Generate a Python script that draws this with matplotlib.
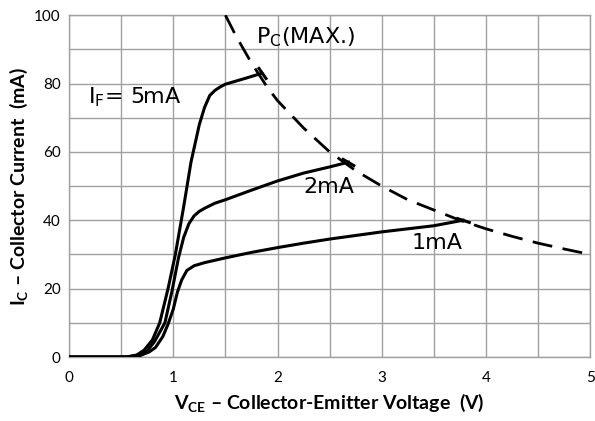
import matplotlib.pyplot as plt
import numpy as np

plt.rcParams['font.family'] = ['Lato', 'DejaVu Sans']
plt.rcParams['mathtext.fontset'] = 'custom'
plt.rcParams['mathtext.rm'] = 'Lato'
plt.rcParams['mathtext.bf'] = 'Lato:bold'

# I_F = 1 mA
v_1ma = [0, 0.55, 0.68, 0.77, 0.83, 0.9, 0.95, 1.0, 1.04, 1.08, 1.13, 1.2, 1.3, 1.5,
         1.75, 2.0, 2.25, 2.5, 3.0, 3.5, 3.78]
ic_1ma = [0, 0, 0.4, 1.5, 2.8, 6, 9.6, 14, 19, 22.5, 25.3, 26.7, 27.6, 29,
          30.6, 32, 33.3, 34.5, 36.6, 38.4, 40]
# I_F = 2 mA
v_2ma = [0, 0.55, 0.65, 0.75, 0.82, 0.92, 0.99, 1.05, 1.1, 1.15, 1.2, 1.25, 1.3, 1.4,
         1.5, 1.75, 2.0, 2.25, 2.5, 2.68]
ic_2ma = [0, 0, 0.4, 1.8, 4.5, 10, 19.6, 29, 35, 39, 41.3, 42.6, 43.5, 45,
          46, 48.8, 51.5, 53.8, 55.6, 57]
# I_F = 5 mA
v_5ma = [0, 0.55, 0.65, 0.72, 0.8, 0.87, 0.95, 1.02, 1.1, 1.17, 1.25, 1.3, 1.35, 1.4,
         1.45, 1.5, 1.6, 1.7, 1.85]
ic_5ma = [0, 0, 0.6, 2, 5, 10, 20, 30, 44, 57, 68, 73, 76.5, 78,
          79, 79.8, 80.7, 81.6, 83]
# collector power dissipation limit
v_pc = [1.5, 1.6, 1.75, 1.9, 2.0, 2.25, 2.5, 2.75, 3.0, 3.25, 3.5, 3.75, 4.0, 4.25, 4.5, 4.75, 5.0]
ic_pc = [100, 94, 86, 79, 75, 67, 60, 54.5, 50, 46, 43, 40, 37.5, 35.3, 33.3, 31.6, 30]

# end cap angle of each curve (deg)
curves = [(v_1ma, ic_1ma, 72), (v_2ma, ic_2ma, 60), (v_5ma, ic_5ma, 35)]

fig = plt.figure(figsize=(5.95, 4.21), dpi=100)
ax = fig.add_axes([0.116, 0.152, 0.876, 0.812])

for v, ic, ang in curves:
    ax.plot(v, ic, color='black', lw=2.2, solid_joinstyle='round', zorder=3,
            marker=(2, 0, ang), markevery=[-1], ms=11, mew=2.2, mec='black')
ax.plot(v_pc, ic_pc, color='black', lw=2.0, dashes=(7.2, 3.8), zorder=3)

ax.set_xlim(0, 5)
ax.set_ylim(0, 100)
ax.set_xticks([0, 1, 2, 3, 4, 5])
ax.set_xticks(np.arange(0.5, 5, 1), minor=True)
ax.set_yticks(range(0, 101, 20))
ax.set_yticks(range(10, 100, 20), minor=True)
ax.grid(True, which='both', color='#a0a0a0', lw=1)
ax.tick_params(which='both', length=0, labelsize=11)
ax.tick_params(axis='x', pad=10)
ax.tick_params(axis='y', pad=6)
for s in ax.spines.values():
    s.set_color('#a0a0a0')
    s.set_linewidth(1)

lab = dict(fontsize=16, family='DejaVu Sans', va='center')
ax.text(0.18, 76, r'I$_\mathregular{F}$= 5mA', **lab)
ax.text(1.79, 93.5, r'P$_\mathregular{C}$(MAX.)', **lab)
ax.text(2.25, 49.7, '2mA', **lab)
ax.text(3.29, 33.3, '1mA', **lab)

ax.set_xlabel(r'V$_\mathbf{CE}$ – Collector-Emitter Voltage  (V)', fontsize=14,
              fontweight='bold', labelpad=5)
ax.set_ylabel(r'I$_\mathbf{C}$ – Collector Current  (mA)', fontsize=14,
              fontweight='bold', labelpad=3)

fig.savefig('out.png', dpi=100)
